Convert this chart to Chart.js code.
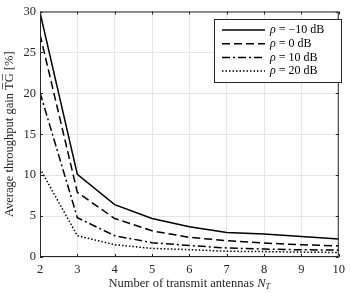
<!DOCTYPE html>
<html>
<head>
<meta charset="utf-8">
<script src="https://cdn.jsdelivr.net/npm/chart.js@4"></script>
<style>
  html, body { margin: 0; padding: 0; background: #fff; }
  #wrap { width: 350px; height: 293px; }
</style>
</head>
<body>
<div id="wrap"><canvas id="chart"></canvas></div>
<script>
var antennas = [2, 3, 4, 5, 6, 7, 8, 9, 10];
var tgMinus10 = [29.9, 10.1, 6.4, 4.7, 3.7, 3.0, 2.8, 2.5, 2.2];
var tg0 = [27.2, 7.9, 4.7, 3.2, 2.4, 2.0, 1.7, 1.5, 1.35];
var tg10 = [20.1, 4.8, 2.6, 1.75, 1.4, 1.1, 0.97, 0.88, 0.84];
var tg20 = [10.8, 2.6, 1.5, 1.05, 0.9, 0.7, 0.66, 0.6, 0.55];
var seriesLabels = ['−10', '0', '10', '20'];
var xTicks = [2, 3, 4, 5, 6, 7, 8, 9, 10];
var yTicks = [0, 5, 10, 15, 20, 25, 30];

var serif = "'Liberation Serif', 'DejaVu Serif', serif";
var dashes = [[], [8, 4], [8, 3, 2, 3], [1.5, 2]];

function pts(vals) {
  return vals.map(function (v, i) { return { x: antennas[i], y: v }; });
}

var allData = [tgMinus10, tg0, tg10, tg20];
var datasets = allData.map(function (vals, i) {
  return {
    label: seriesLabels[i],
    data: pts(vals),
    borderColor: '#000',
    borderWidth: 1.5,
    borderDash: dashes[i],
    pointRadius: 0,
    fill: false,
    tension: 0
  };
});

// box, inward ticks, x title and legend drawn like matlab
var boxPlugin = {
  id: 'box',
  afterDraw: function (chart) {
    var c = chart.ctx, a = chart.chartArea;
    var xs = chart.scales.x, ys = chart.scales.y;
    c.save();
    c.strokeStyle = '#262626';
    c.lineWidth = 1;
    c.strokeRect(a.left + 0.5, a.top + 0.5, a.right - a.left - 1, a.bottom - a.top - 1);
    xTicks.forEach(function (t) {
      var px = Math.round(xs.getPixelForValue(t)) + 0.5;
      c.beginPath();
      c.moveTo(px, a.bottom); c.lineTo(px, a.bottom - 3);
      c.moveTo(px, a.top); c.lineTo(px, a.top + 3);
      c.stroke();
    });
    yTicks.forEach(function (t) {
      var py = Math.round(ys.getPixelForValue(t)) + 0.5;
      c.beginPath();
      c.moveTo(a.left, py); c.lineTo(a.left + 3, py);
      c.moveTo(a.right, py); c.lineTo(a.right - 3, py);
      c.stroke();
    });

    // x title with italic N and subscript T
    c.fillStyle = '#262626';
    c.textBaseline = 'alphabetic';
    c.font = '12.5px ' + serif;
    var t1 = 'Number of transmit antennas ';
    var w1 = c.measureText(t1).width;
    c.font = 'italic 12.5px ' + serif;
    var w2 = c.measureText('N').width;
    c.font = 'italic 8.5px ' + serif;
    var w3 = c.measureText('T').width;
    var x0 = (a.left + a.right) / 2 - (w1 + w2 + w3) / 2;
    c.font = '12.5px ' + serif;
    c.fillText(t1, x0, 287);
    c.font = 'italic 12.5px ' + serif;
    c.fillText('N', x0 + w1, 287);
    c.font = 'italic 8.5px ' + serif;
    c.fillText('T', x0 + w1 + w2, 289);

    // legend
    var lx = 214, ly = 19, lw = 127, lh = 63;
    c.fillStyle = '#fff';
    c.fillRect(lx, ly, lw, lh);
    c.strokeStyle = '#262626';
    c.strokeRect(lx + 0.5, ly + 0.5, lw, lh);
    datasets.forEach(function (ds, i) {
      var y = ly + 11 + i * 13.7;
      c.beginPath();
      c.setLineDash(ds.borderDash);
      c.lineWidth = 1.5;
      c.strokeStyle = '#000';
      c.moveTo(222, y); c.lineTo(265, y);
      c.stroke();
      c.setLineDash([]);
      c.fillStyle = '#000';
      c.textBaseline = 'middle';
      c.font = 'italic 12px ' + serif;
      c.fillText('ρ', 270, y);
      var w = c.measureText('ρ').width;
      c.font = '12px ' + serif;
      c.fillText(' = ' + ds.label + ' dB', 270 + w, y);
    });
    c.restore();
  }
};

new Chart(document.getElementById('chart'), {
  type: 'line',
  data: { datasets: datasets },
  options: {
    responsive: true,
    maintainAspectRatio: false,
    animation: false,
    layout: { padding: { top: 6, right: 5, left: 2, bottom: 0 } },
    plugins: { legend: { display: false }, tooltip: { enabled: false } },
    scales: {
      x: {
        type: 'linear',
        min: 2, max: 10,
        afterBuildTicks: function (s) { s.ticks = xTicks.map(function (v) { return { value: v }; }); },
        afterFit: function (s) { s.height = 36; },
        grid: { color: '#e6e6e6', drawTicks: false },
        border: { display: false },
        ticks: { color: '#262626', font: { family: serif, size: 12.5 }, padding: 5 },
        title: { display: false }
      },
      y: {
        min: 0, max: 30,
        afterBuildTicks: function (s) { s.ticks = yTicks.map(function (v) { return { value: v }; }); },
        afterFit: function (s) { s.width = 38; },
        grid: { color: '#e6e6e6', drawTicks: false },
        border: { display: false },
        ticks: { color: '#262626', font: { family: serif, size: 12.5 }, padding: 4 },
        title: { display: true, text: 'Average throughput gain T\u0305G\u0305 [%]', color: '#262626', font: { family: serif, size: 12.5 }, padding: { top: 0, bottom: 1 } }
      }
    }
  },
  plugins: [boxPlugin]
});
</script>
</body>
</html>
